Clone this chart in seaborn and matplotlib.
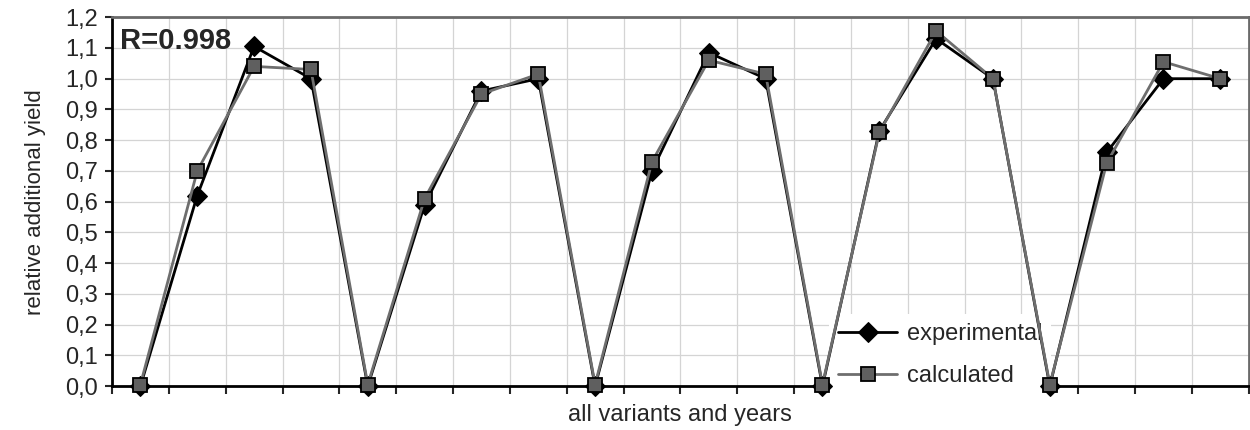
import numpy as np
import pandas as pd
import matplotlib
matplotlib.use("Agg")
import matplotlib.pyplot as plt
from matplotlib.ticker import FuncFormatter
import seaborn as sns

# 5 blocks of 4 variants each
experimental = [0.0, 0.62, 1.105, 1.0,
                0.0, 0.59, 0.96, 1.0,
                0.0, 0.70, 1.085, 1.0,
                0.0, 0.83, 1.13, 1.0,
                0.0, 0.76, 1.0, 1.0]
calculated = [0.005, 0.70, 1.04, 1.03,
              0.005, 0.61, 0.95, 1.015,
              0.005, 0.73, 1.06, 1.015,
              0.005, 0.825, 1.155, 1.0,
              0.005, 0.725, 1.055, 1.0]
y_ticks = [0.0, 0.1, 0.2, 0.3, 0.4, 0.5, 0.6, 0.7, 0.8, 0.9, 1.0, 1.1, 1.2]

idx = np.arange(len(experimental))
df = pd.DataFrame({"idx": idx, "experimental": experimental, "calculated": calculated})

sns.set_theme(style="white")
plt.rcParams['font.family'] = ['Liberation Sans', 'DejaVu Sans']

fig = plt.figure(figsize=(12.5, 4.3), dpi=100)
ax = fig.add_axes([0.0896, 0.102, 0.9094, 0.858])

sns.lineplot(data=df, x="idx", y="experimental", ax=ax, color="black", lw=2,
             marker="D", markersize=10, markerfacecolor="black", markeredgecolor="black",
             label="experimental", clip_on=False, zorder=3)
sns.lineplot(data=df, x="idx", y="calculated", ax=ax, color="#6e6e6e", lw=2,
             marker="s", markersize=10, markerfacecolor="#5f5f5f", markeredgecolor="black",
             markeredgewidth=1.3, label="calculated", clip_on=False, zorder=4)

ax.set_xlim(-0.5, len(idx) - 0.5)
ax.set_ylim(0, 1.2)
ax.set_xticks(np.arange(-0.5, len(idx), 1))
ax.set_xticklabels([])
ax.set_yticks(y_ticks)
ax.yaxis.set_major_formatter(FuncFormatter(lambda v, p: f"{v:.1f}".replace('.', ',')))
ax.tick_params(axis='y', labelsize=17, length=5, width=1.5, direction='out', left=True, pad=5)
ax.tick_params(axis='x', length=6, width=1.5, direction='out', bottom=True)
ax.grid(True, color="#d4d4d4", lw=0.9)

for s in ['left', 'bottom']:
    ax.spines[s].set_color('black')
    ax.spines[s].set_linewidth(2)
for s in ['top', 'right']:
    ax.spines[s].set_color('#6a6a6a')
    ax.spines[s].set_linewidth(2)

ax.set_xlabel("all variants and years", fontsize=17, labelpad=3)
ax.set_ylabel("relative additional yield", fontsize=16, labelpad=14)

ax.text(0.007, 0.935, "R=0.998", transform=ax.transAxes, fontsize=21,
        fontweight='bold', va='center', ha='left')

leg = ax.legend(loc='lower left', bbox_to_anchor=(0.62, -0.06), frameon=True,
                facecolor='white', edgecolor='none', framealpha=1,
                fontsize=17, handlelength=2.5, labelspacing=0.85, handletextpad=0.4)
leg.set_zorder(2.5)

fig.savefig("out.png", dpi=100)
